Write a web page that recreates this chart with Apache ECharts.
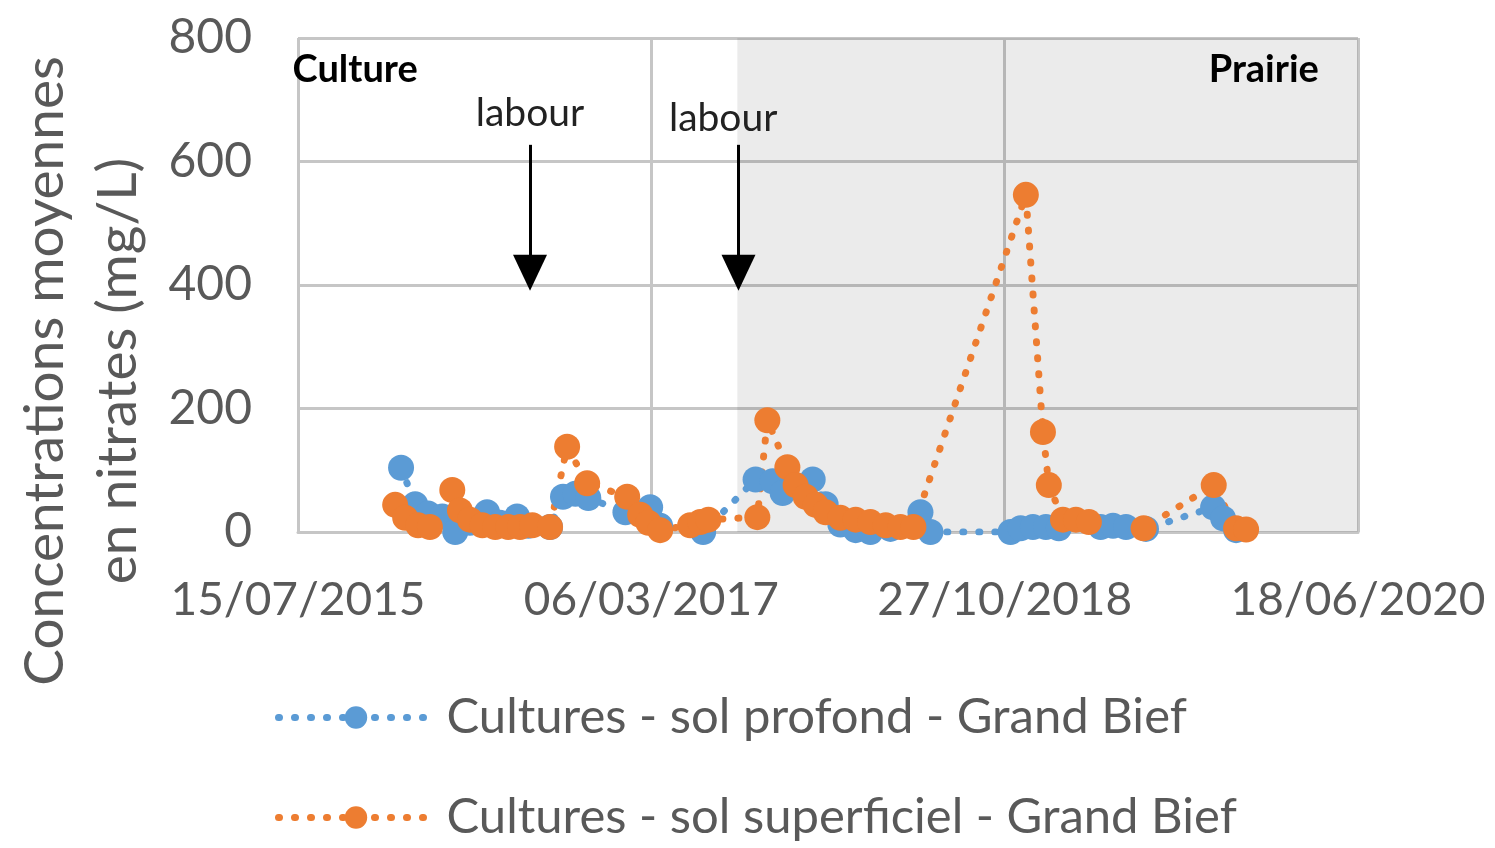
<!DOCTYPE html>
<html><head><meta charset="utf-8">
<script src="https://cdn.jsdelivr.net/npm/echarts@6/dist/echarts.min.js"></script>
<style>html,body{margin:0;padding:0;background:#fff}#c{width:1495px;height:848px}</style>
</head><body><div id="c"></div>
<script>
// ---- data ----
const startDate = '2015-07-15';
const tickStepDays = 600;
const axisEndDays = 1800;
const yMax = 800;
const yStep = 200;

const profondName = 'Cultures - sol profond - Grand Bief';
const profondDates = ['2016-01-06','2016-01-30','2016-02-21','2016-03-16','2016-04-07','2016-05-02','2016-05-31','2016-06-22','2016-07-21','2016-08-09','2016-09-15','2016-10-07','2016-10-28','2016-11-19','2017-01-21','2017-03-04','2017-03-21','2017-06-02','2017-08-30','2017-09-28','2017-10-15','2017-12-05','2017-12-27','2018-01-21','2018-02-16','2018-03-13','2018-04-16','2018-06-06','2018-06-23','2018-11-06','2018-11-23','2018-12-14','2019-01-05','2019-01-27','2019-04-08','2019-04-29','2019-05-21','2019-06-24','2019-10-16','2019-11-02','2019-11-24'];
const profondValues = [104,45,30,25,0,15,32,15,25,10,8,57,62,55,32,40,10,0,85,82,63,85,45,12,3,0,5,32,0,0,6,8,8,6,8,10,8,5,40,22,3];

const superName = 'Cultures - sol superficiel - Grand Bief';
const superDates = ['2015-12-27','2016-01-13','2016-02-04','2016-02-24','2016-04-02','2016-04-15','2016-05-02','2016-05-23','2016-06-14','2016-07-06','2016-07-26','2016-08-16','2016-09-15','2016-10-14','2016-11-17','2017-01-24','2017-02-15','2017-03-01','2017-03-21','2017-05-11','2017-05-28','2017-06-11','2017-09-02','2017-09-19','2017-10-23','2017-11-06','2017-11-23','2017-12-10','2017-12-27','2018-01-21','2018-02-16','2018-03-13','2018-04-08','2018-05-03','2018-05-25','2018-12-02','2018-12-31','2019-01-10','2019-02-03','2019-02-25','2019-03-19','2019-06-20','2019-10-17','2019-11-24','2019-12-11'];
const superValues = [44,23,11,8,68,35,20,11,8,8,8,11,8,138,79,57,28,15,3,11,16,20,24,181,105,76,57,44,32,23,20,16,11,8,8,546,162,76,20,20,16,6,76,6,4];

const prairieStartDate = '2017-07-30';
const labourDates = ['2016-08-12','2017-08-01'];
const labourArrowTop = 627, labourArrowTip = 420;
const labourLabelDates = ['2016-08-12','2017-07-06'];
const labourLabelValues = [678, 670];
const periodLabels = [['Culture','2015-10-20',748],['Prairie','2020-01-10',748]];

// ---- helpers ----
const DAY = 86400000;
function toUTC(s){const p=s.split('-').map(Number);return Date.UTC(p[0],p[1]-1,p[2]);}
const t0 = toUTC(startDate);
function dayOff(s){return Math.round((toUTC(s)-t0)/DAY);}
function fmt(off){const d=new Date(t0+off*DAY);const z=n=>String(n).padStart(2,'0');return z(d.getUTCDate())+'/'+z(d.getUTCMonth()+1)+'/'+d.getUTCFullYear();}

const blue='#5b9bd5', orange='#ed7d31', grid='#c6c6c6', txt='#595959';
const FONT='Lato';
const dotted={width:7,type:[1,15],cap:'round'};
const legendBase={orient:'horizontal',left:270,itemWidth:155,itemHeight:28,
  lineStyle:{width:7,type:[1,15],cap:'round'},
  textStyle:{color:txt,fontFamily:FONT,fontSize:49,padding:[0,0,0,8]}};

const chart = echarts.init(document.getElementById('c'));
chart.setOption({
  animation:false,
  backgroundColor:'#fff',
  grid:{left:298,right:137,top:38,bottom:316,containLabel:false},
  xAxis:{type:'value',min:0,max:axisEndDays,interval:tickStepDays,
    axisLine:{show:true,lineStyle:{color:grid,width:3}},
    axisTick:{show:false},
    splitLine:{show:true,lineStyle:{color:grid,width:3}},
    axisLabel:{formatter:v=>fmt(v),color:txt,fontFamily:FONT,fontSize:46,margin:45}},
  yAxis:{type:'value',min:0,max:yMax,interval:yStep,
    axisLine:{show:false},axisTick:{show:false},
    splitLine:{show:true,lineStyle:{color:grid,width:3}},
    axisLabel:{color:txt,fontFamily:FONT,fontSize:48,margin:46}},
  legend:[Object.assign({top:688,data:[profondName]},legendBase),
          Object.assign({top:788,data:[superName]},legendBase)],
  graphic:[{type:'text',x:82,y:371,rotation:Math.PI/2,
    style:{text:'Concentrations moyennes\nen nitrates (mg/L)',fill:txt,font:'55px '+FONT,lineHeight:73,textAlign:'center',textVerticalAlign:'middle'}}],
  series:[
    {name:'bg',type:'line',data:[],silent:true,
     markArea:{silent:true,itemStyle:{color:'rgba(0,0,0,0.08)'},
       data:[[{xAxis:dayOff(prairieStartDate)},{xAxis:axisEndDays}]]}},
    {name:profondName,type:'line',data:profondDates.map((d,i)=>[dayOff(d),profondValues[i]]),
     symbol:'circle',symbolSize:26,itemStyle:{color:blue},
     lineStyle:Object.assign({color:blue},dotted)},
    {name:superName,type:'line',data:superDates.map((d,i)=>[dayOff(d),superValues[i]]),
     symbol:'circle',symbolSize:26,itemStyle:{color:orange},
     lineStyle:Object.assign({color:orange},dotted),
     markLine:{silent:true,symbol:['none','triangle'],symbolSize:[34,36],
       lineStyle:{color:'#000',width:3,type:'solid'},label:{show:false},
       data:labourDates.map(d=>[{coord:[dayOff(d),labourArrowTop]},{coord:[dayOff(d),labourArrowTip]}])},
     markPoint:{silent:true,symbol:'circle',symbolSize:0,
       data:labourLabelDates.map((d,i)=>({coord:[dayOff(d),labourLabelValues[i]],
           label:{show:true,formatter:'labour',color:'#222',fontFamily:FONT,fontSize:39,position:'inside'}}))
         .concat(periodLabels.map(p=>({coord:[dayOff(p[1]),p[2]],
           label:{show:true,formatter:p[0],color:'#000',fontWeight:'bold',fontFamily:FONT,fontSize:38,position:'inside'}})))}}
  ]
});
</script></body></html>
